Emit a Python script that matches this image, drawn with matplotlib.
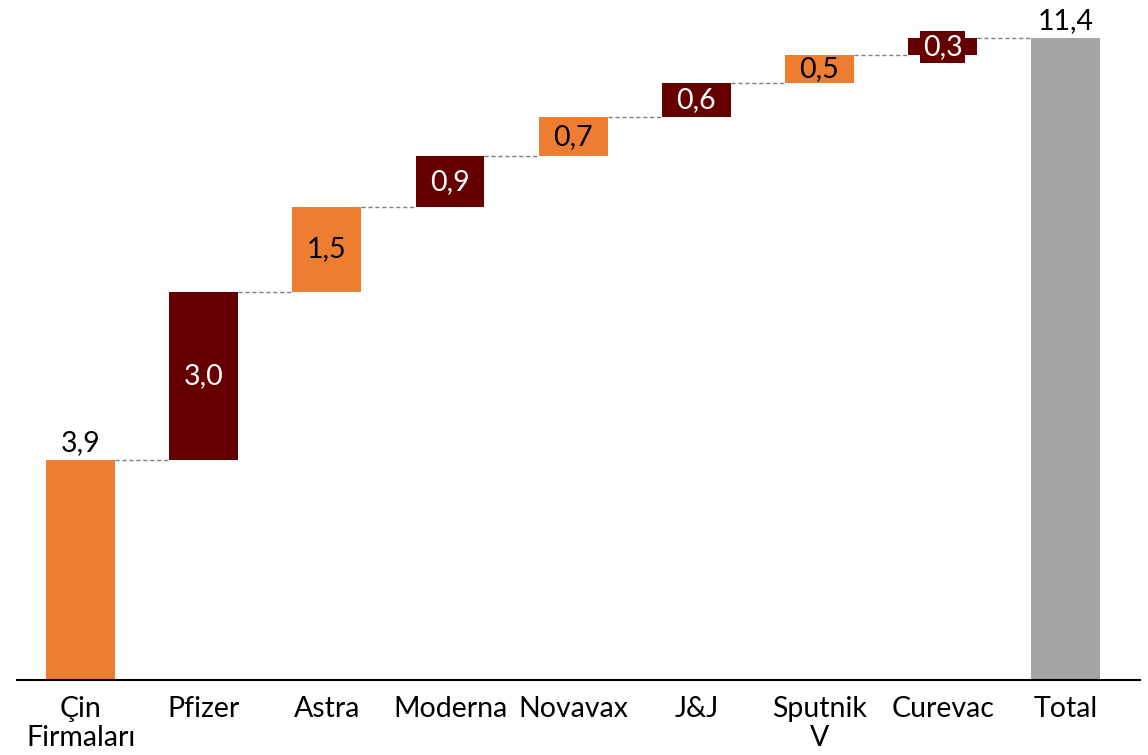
import numpy as np
import matplotlib.pyplot as plt

plt.rcParams['font.family'] = ['Lato', 'DejaVu Sans']

categories = ['Çin\nFirmaları', 'Pfizer', 'Astra', 'Moderna', 'Novavax', 'J&J', 'Sputnik\nV', 'Curevac', 'Total']
steps = [3.9, 3.0, 1.5, 0.9, 0.7, 0.6, 0.5, 0.3]
total = 11.4
labels = ['3,9', '3,0', '1,5', '0,9', '0,7', '0,6', '0,5', '0,3', '11,4']

orange = '#ED7D31'
dark = '#660000'
grey = '#A5A5A5'

fig = plt.figure(figsize=(11.48, 7.55), dpi=100)
ax = fig.add_axes([0.0148, 0.0993, 0.9785, 0.9007])

x = np.arange(len(categories))
w = 0.56
bottoms = np.concatenate([[0], np.cumsum(steps)[:-1]])
heights = list(steps) + [total]
bots = list(bottoms) + [0]
colors = [orange if i % 2 == 0 else dark for i in range(len(steps))] + [grey]

ax.bar(x, heights, bottom=bots, width=w, color=colors, zorder=2)

# dashed connectors
tops = np.cumsum(steps)
for i in range(len(steps)):
    ax.plot([x[i] + w / 2, x[i + 1] - w / 2], [tops[i], tops[i]],
            ls=(0, (3, 2)), color='#7f7f7f', lw=1, zorder=1)

fs = 20.5
# value labels
ax.text(x[0], steps[0] + 0.08, labels[0], ha='center', va='bottom', fontsize=fs)
ax.text(x[-1], total + 0.08, labels[-1], ha='center', va='bottom', fontsize=fs)
for i in range(1, len(steps)):
    yc = bottoms[i] + steps[i] / 2
    c = 'white' if colors[i] == dark else 'black'
    if steps[i] < 0.4:
        ax.text(x[i], yc, labels[i], ha='center', va='center', fontsize=fs, color=c,
                bbox=dict(boxstyle='square,pad=0.1', fc=colors[i], ec='none'))
    else:
        ax.text(x[i], yc, labels[i], ha='center', va='center', fontsize=fs, color=c)

# category labels, placed line by line on fixed baselines
for xi, cat in zip(x, categories):
    for k, line in enumerate(cat.split('\n')):
        ax.annotate(line, xy=(xi, 0), xycoords=('data', 'axes fraction'),
                    xytext=(0, -26.6 - k * 20.9), textcoords='offset points',
                    ha='center', va='baseline', fontsize=fs, annotation_clip=False)

ax.set_xlim(-0.516, 8.605)
ax.set_ylim(0, 12.08)
ax.set_xticks([])
ax.set_yticks([])
for s in ['top', 'right', 'left']:
    ax.spines[s].set_visible(False)
ax.spines['bottom'].set_linewidth(1.5)

fig.savefig('out.png', dpi=100)
